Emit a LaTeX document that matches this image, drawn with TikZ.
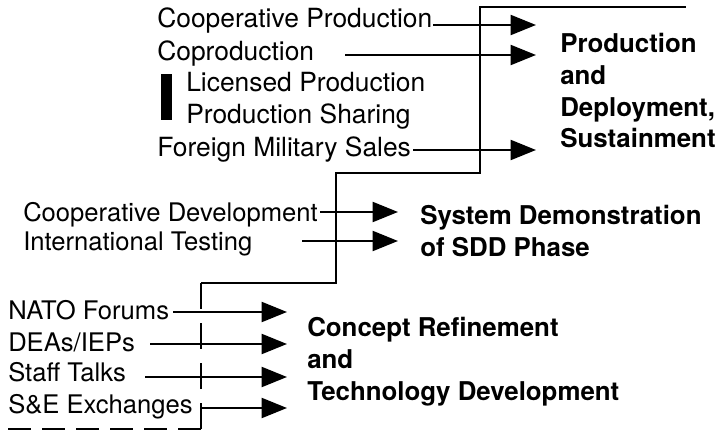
\documentclass[tikz,border=0pt]{standalone}
\usepackage{fontspec}
\setmainfont{TeX Gyre Heros}
\usetikzlibrary{arrows.meta}

\tikzset{
  lbl/.style={anchor=base west,inner sep=0pt,font=\fontsize{19.2}{23.8}\selectfont},
  toplbl/.style={lbl,font=\fontsize{19.8}{23.8}\selectfont},
  phase/.style={anchor=north west,inner sep=0pt,align=left,font=\fontsize{19.4}{23.8}\selectfont\bfseries},
  feed/.style={line width=1.5pt,-{Triangle[length=19pt,width=15pt]}},
  stair/.style={line width=1.5pt},
  stairdash/.style={line width=1.5pt,dash pattern=on 17.25pt off 8.25pt},
}

\begin{document}
\begin{tikzpicture}[x=0.75pt,y=0.75pt,yscale=-1,xscale=1]
\useasboundingbox (0,0) rectangle (722,431);

%Staircase
\draw [stairdash] (8,429) -- (201,429) ;
\draw [stair,dash pattern=on 19.5pt off 10.5pt] (201,429) -- (201,283) ;
\draw [stair] (201,283) -- (336,283) -- (336,173) -- (480,173) -- (480,7) -- (686,7) ;

% Text Node
\node (coopprod) [toplbl] at (157,28) {Cooperative Production};
% Text Node
\node (coprod) [toplbl] at (157,61) {Coproduction};
% Text Node
\node (licprod) [toplbl] at (186,92) {Licensed Production};
% Text Node
\node (prodshare) [toplbl] at (186,124) {Production Sharing};
% Text Node
\node (fms) [toplbl] at (157,157) {Foreign Military Sales};
% bar
\fill (161,74) rectangle (172,120) ;

% Text Node
\node (coopdev) [lbl] at (23,222) {Cooperative Development};
% Text Node
\node (inttest) [lbl] at (23,251) {International Testing};

% Text Node
\node (nato) [lbl] at (8,320) {NATO Forums};
% Text Node
\node (dea) [lbl] at (8,351) {DEAs/IEPs};
% Text Node
\node (staff) [lbl] at (8,382) {Staff Talks};
% Text Node
\node (sne) [lbl] at (8,413) {S\&E Exchanges};

% Phase Nodes
\node (pds) [phase] at (560,33) {Production\\and\\Deployment,\\Sustainment};
\node (sdd) [phase] at (420,205) {System Demonstration\\of SDD Phase};
\node (crtd) [phase] at (307,317) {Concept Refinement\\and\\Technology Development};

%Arrow ends
\coordinate (s1) at (433,25);  \coordinate (t1) at (536,25);
\coordinate (s2) at (345,55);  \coordinate (t2) at (536,55);
\coordinate (s3) at (413,150); \coordinate (t3) at (536,150);
\coordinate (s4) at (320,212); \coordinate (t4) at (398,212);
\coordinate (s5) at (302,241); \coordinate (t5) at (398,241);
\coordinate (s6) at (173,312); \coordinate (t6) at (287,312);
\coordinate (s7) at (150,344); \coordinate (t7) at (287,344);
\coordinate (s8) at (145,377); \coordinate (t8) at (287,377);
\coordinate (s9) at (201,408); \coordinate (t9) at (287,408);

%Straight Lines
\foreach \i in {1,...,9}
  \draw [feed] (s\i) -- (t\i) ;

\end{tikzpicture}
\end{document}
